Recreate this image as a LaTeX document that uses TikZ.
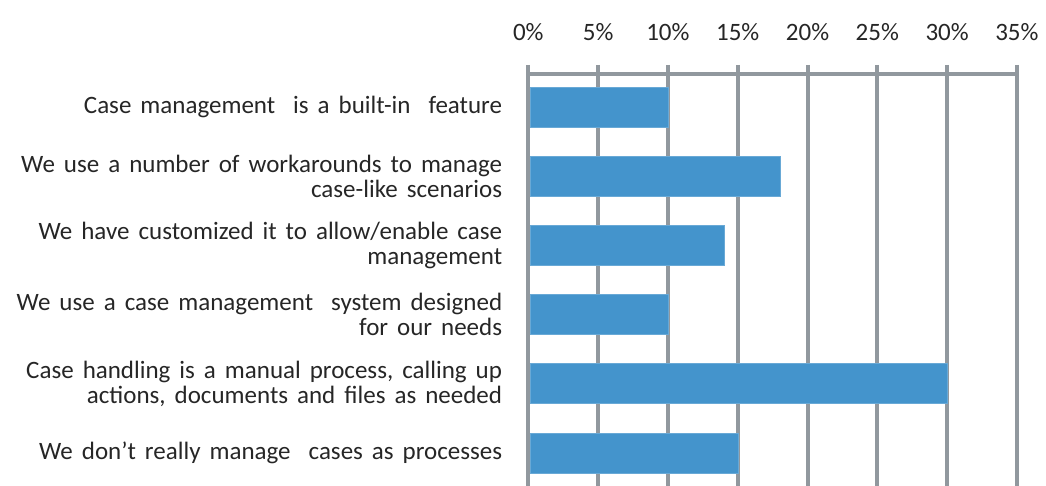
\documentclass[tikz,border=0pt]{standalone}
\usepackage{fontspec}
\setmainfont{Carlito}
\usepackage{tikz}
\usetikzlibrary{positioning}
\definecolor{barblue}{RGB}{68,148,204}
\definecolor{gridgray}{RGB}{145,152,158}
\definecolor{labeltext}{RGB}{38,38,38}
\newcommand{\lblfont}{\fontsize{25}{25}\selectfont\spaceskip=0.36em plus 0.1em minus 0.05em\relax}

\begin{document}
\begin{tikzpicture}[x=1pt, y=-1pt,
  gridline/.style={draw=gridgray, line width=4pt},
  bar/.style={fill=barblue, draw=barblue!80!white, line width=0.8pt,
    minimum height=40pt, inner sep=0pt, anchor=west},
  lbl/.style={text=labeltext, align=right, inner sep=0pt, font=\lblfont},
  tick/.style={text=labeltext, inner sep=0pt, anchor=base,
    font=\fontsize{25}{25}\selectfont}]
  \useasboundingbox (0,0) rectangle (1046,486);
  % axis and grid
  \coordinate (axl) at (528.3,74);
  \coordinate (axr) at (1017,74);
  \draw[gridline] (axl) -- (axr);
  \foreach \p in {0,5,...,35} {
    \coordinate (g\p) at (528.3+13.96*\p,65);
    \draw[gridline] (g\p) -- (528.3+13.96*\p,490);
    \node[tick] (t\p) at (528.3+13.96*\p,40.7) {\p\%};
  }
  % bars
  \foreach \i/\v in {1/10,2/18,3/14,4/10,5/30,6/15} {
    \node[bar, minimum width=13.96*\v pt-2pt] (b\i) at (530.3,107+69.2*\i-69.2) {};
  }
  % labels
  \node[lbl, left=28pt of b1.west] (l1) {Case management\ \ is a built-in\ \ feature};
  \node[lbl, left=28pt of b2.west] (l2) {We use a number of workarounds to manage\\case-like scenarios};
  \node[lbl, left=28pt of b3.west] (l3) {We have customized it to allow/enable case\\management};
  \node[lbl, left=28pt of b4.west] (l4) {We use a case management\ \ system designed\\for our needs};
  \node[lbl, left=28pt of b5.west] (l5) {Case handling is a manual process, calling up\\actions, documents and files as needed\ };
  \node[lbl, left=28pt of b6.west] (l6) {We don’t really manage\ \ cases as processes};
\end{tikzpicture}
\end{document}
